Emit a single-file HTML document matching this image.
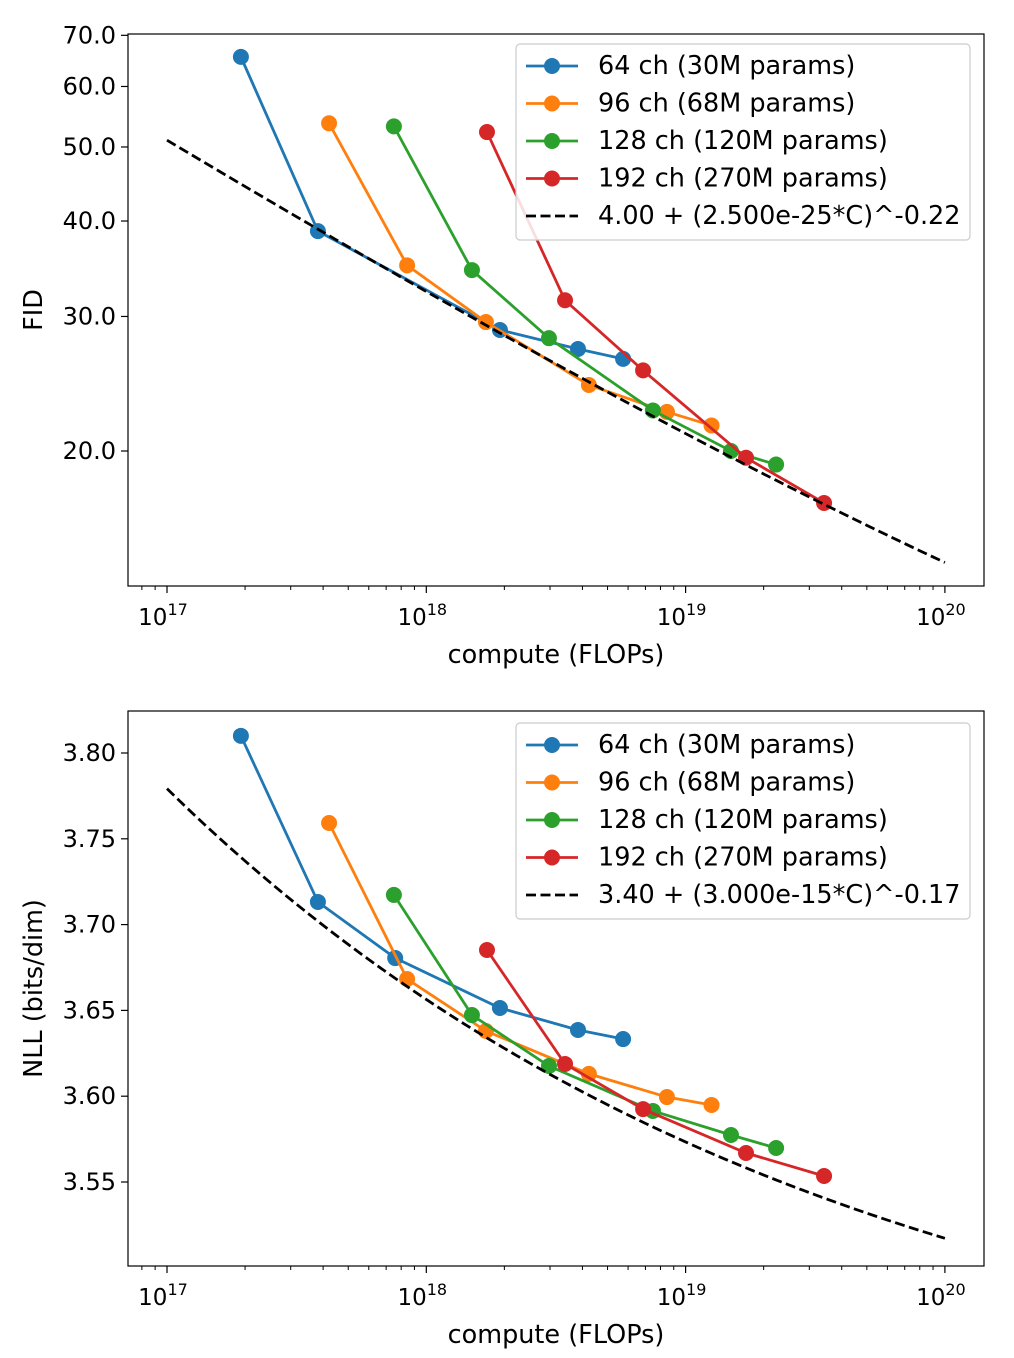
<!DOCTYPE html>
<html><head><meta charset="utf-8"><style>
body{margin:0;background:#fff}
svg{display:block;font-family:"DejaVu Sans","Liberation Sans",sans-serif}
</style></head><body>
<svg id="c" width="1014" height="1358" viewBox="0 0 1014 1358"></svg>
<script>
const seriesNames=["64 ch (30M params)","96 ch (68M params)","128 ch (120M params)","192 ch (270M params)"];
const colors=["#1f77b4","#ff7f0e","#2ca02c","#d62728"];
const fidCompute=[[17.285,17.582,18.284,18.585,18.759],[17.625,17.926,18.23,18.627,18.928,19.10],[17.875,18.176,18.473,18.874,19.175,19.349],[18.234,18.535,18.836,19.233,19.534]];
const fidValues=[[65.6,38.8,28.8,27.2,26.4],[53.7,35.0,29.5,24.4,22.5,21.6],[53.2,34.5,28.1,22.6,20.0,19.2],[52.3,31.5,25.5,19.6,17.1]];
const nllCompute=[[17.285,17.582,17.88,18.284,18.585,18.759],[17.625,17.926,18.23,18.627,18.928,19.10],[17.875,18.176,18.473,18.874,19.175,19.349],[18.234,18.535,18.836,19.233,19.534]];
const nllValues=[[3.810,3.7132,3.6805,3.6514,3.6386,3.6333],[3.7592,3.6683,3.638,3.613,3.5995,3.5949],[3.7173,3.6473,3.6176,3.5914,3.5774,3.5698],[3.6852,3.6188,3.5925,3.5669,3.5535]];
const fidTicks=[20,30,40,50,60,70];
const nllTicks=[3.55,3.60,3.65,3.70,3.75,3.80];
const xTicks=[17,18,19,20];
const fidFitLabel="4.00 + (2.500e-25*C)^-0.22";
const nllFitLabel="3.40 + (3.000e-15*C)^-0.17";

const svg=document.getElementById('c');
const NS="http://www.w3.org/2000/svg";
function mk(t,a,p){const e=document.createElementNS(NS,t);for(const k in a)e.setAttribute(k,a[k]);(p||svg).appendChild(e);return e;}
const X=l=>167+(l-17)*259.3;

function drawChart(top,bottom,Y,yticks,fmt,compute,values,fitFn,fitLabel,ylabel,legTop,prefix){
  const g=mk('g',{});
  
  
  for(const t of xTicks){
    const x=X(t);
    mk('line',{x1:x,x2:x,y1:bottom,y2:bottom+7,stroke:'#000','stroke-width':1.2},g);
    const tx=mk('text',{x:x-4,y:bottom+39,'font-size':23,'text-anchor':'middle'},g);
    
    
    tx.textContent='10';
    const s=mk('tspan',{dy:-10,'font-size':16},tx);s.textContent=String(t);
    if(t<20)for(let m=2;m<10;m++){const xm=X(t+Math.log10(m));mk('line',{x1:xm,x2:xm,y1:bottom,y2:bottom+4,stroke:'#000','stroke-width':1},g);}
  }
  for(let m=8;m<10;m++){const xm=X(16+Math.log10(m));if(xm>128)mk('line',{x1:xm,x2:xm,y1:bottom,y2:bottom+4,stroke:'#000','stroke-width':1},g);}
  for(const t of yticks){
    const y=Y(t);
    mk('line',{x1:121,x2:128,y1:y,y2:y,stroke:'#000','stroke-width':1.2},g);
    const tx=mk('text',{x:116,y:y+8,'font-size':24,'text-anchor':'end'},g);
    
    
    tx.textContent=fmt(t);
  }
  const xl=mk('text',{x:556,y:bottom+77,'font-size':25.5,'text-anchor':'middle'},g);
  
  
  xl.textContent='compute (FLOPs)';
  const cy=(top+bottom)/2;
  const yl=mk('text',{x:42,y:cy,'font-size':25.5,'text-anchor':'middle',transform:`rotate(-90 42 ${cy})`},g);
  
  
  yl.textContent=ylabel;
  for(let s=0;s<4;s++){
    const pts=compute[s].map((c,i)=>[X(c),Y(values[s][i])]);
    const pl=mk('polyline',{points:pts.map(p=>p.join(',')).join(' '),fill:'none',stroke:colors[s],'stroke-width':2.8},g);
    
    
    for(const p of pts){
      const c=mk('circle',{cx:p[0],cy:p[1],r:8,fill:colors[s]},g);
      
      
    }
  }
  const fp=[];for(let l=17;l<=20.001;l+=0.05){fp.push([X(l),Y(fitFn(Math.pow(10,l)))]);}
  const fl=mk('polyline',{points:fp.map(p=>p.join(',')).join(' '),fill:'none',stroke:'#000','stroke-width':2.8,'stroke-dasharray':'10,4.5'},g);
  
  
  const fr=mk('rect',{x:128,y:top,width:856,height:bottom-top,fill:'none',stroke:'#000','stroke-width':1.2},g);
  
  
  const lg=mk('g',{},g);
  
  
  mk('rect',{x:516,y:legTop,width:454,height:196,rx:4,fill:'#fff','fill-opacity':0.85,stroke:'#ccc','stroke-width':1.2},lg);
  const labels=seriesNames.concat([fitLabel]);
  for(let i=0;i<5;i++){
    const y=legTop+22+i*37.5;
    const e=mk('g',{},lg);
    
    
    if(i<4){mk('line',{x1:526,x2:578,y1:y,y2:y,stroke:colors[i],'stroke-width':2.8},e);mk('circle',{cx:552,cy:y,r:8,fill:colors[i]},e);}
    else mk('line',{x1:526,x2:578,y1:y,y2:y,stroke:'#000','stroke-width':2.8,'stroke-dasharray':'10,4.5'},e);
    const t=mk('text',{x:598,y:y+8,'font-size':25.5},e);t.textContent=labels[i];
  }
}
const Yf=v=>451-764*(Math.log10(v)-Math.log10(20));
drawChart(34,586,Yf,fidTicks,v=>v.toFixed(1),fidCompute,fidValues,C=>4+Math.pow(2.5e-25*C,-0.22),fidFitLabel,'FID',44,'fid');
const Yn=v=>753+(3.80-v)*1716;
drawChart(711,1266,Yn,nllTicks,v=>v.toFixed(2),nllCompute,nllValues,C=>3.4+Math.pow(3e-15*C,-0.17),nllFitLabel,'NLL (bits/dim)',723,'nll');
</script>
</body></html>
